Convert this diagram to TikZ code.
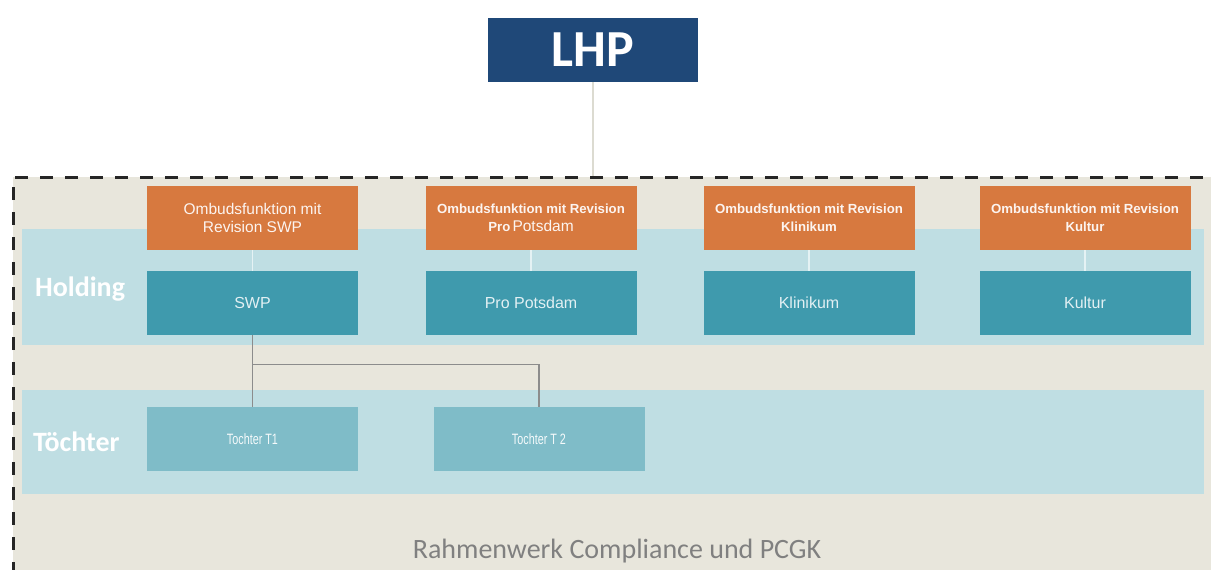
\documentclass[tikz,border=0pt]{standalone}
\usepackage{fontspec}
\setmainfont{Liberation Sans}
\newfontfamily\calib{Carlito}
\newfontfamily\narrow[FakeStretch=0.72]{Liberation Sans}

\definecolor{lhpblue}{HTML}{1F4878}
\definecolor{frameback}{HTML}{E8E6DC}
\definecolor{bandblue}{HTML}{BFDEE3}
\definecolor{ombudorange}{HTML}{D7793F}
\definecolor{firmteal}{HTML}{3F9AAD}
\definecolor{daughterblue}{HTML}{7FBCC8}

\begin{document}
\begin{tikzpicture}[x=1pt, y=-1pt,
  box/.style={minimum width=211pt, minimum height=64pt, inner sep=0pt, align=center},
  ombud/.style={box, fill=ombudorange, text=white!92!ombudorange, font=\fontsize{15.5}{18}\selectfont},
  ombudbold/.style={ombud, font=\bfseries\fontsize{13.2}{18}\selectfont},
  firm/.style={box, fill=firmteal, text=white!85!firmteal, font=\fontsize{16}{18}\selectfont},
  daughter/.style={box, fill=daughterblue, text=white!92!daughterblue, font=\narrow\fontsize{15}{16}\selectfont},
  level/.style={anchor=west, inner sep=0pt, text=white, font=\calib\bfseries\fontsize{28}{30}\selectfont}]

\useasboundingbox (0,0) rectangle (1211,570);
\clip (0,0) rectangle (1211,570);

% frame and the two level bands
\fill [frameback] (13,177) rectangle (1230,600);
\fill [bandblue] (22,229) rectangle (1204,345);
\fill [bandblue] (22,390) rectangle (1204,494);

\node [level] (holding) at (35,289) {Holding};
\node [level] (toechter) at (33,442) {Töchter};

% top
\node [box, minimum width=210pt, fill=lhpblue, text=white, font=\calib\bfseries\fontsize{52}{60}\selectfont] (lhp) at (593,50) {LHP};
\coordinate (frametop) at (593,177);
\draw [frameback!95!black, line width=1.5pt] (lhp.south) -- (frametop);

% ombudsman and holding companies
\foreach \x/\id/\ostyle/\otext/\ftext in {
  252.5/swp/ombud/{Ombudsfunktion mit\\Revision SWP}/SWP,
  531/pro/ombudbold/{Ombudsfunktion mit Revision\\Pro\,{\mdseries\fontsize{15.5}{18}\selectfont Potsdam}}/Pro Potsdam,
  809/klinikum/ombudbold/{Ombudsfunktion mit Revision\\Klinikum}/Klinikum,
  1085/kultur/ombudbold/{Ombudsfunktion mit Revision\\Kultur}/Kultur}
{
  \node [\ostyle] (omb-\id) at (\x,218) {\otext};
  \node [firm] (firm-\id) at (\x,303) {\ftext};
  \draw [bandblue!40!white, line width=1.5pt] (omb-\id.south) -- (firm-\id.north);
}

% daughters of SWP
\node [daughter] (t1) at (252.5,439) {Tochter T1};
\node [daughter] (t2) at (539,439) {Tochter T 2};

\draw [black!45, line width=1.2pt] (firm-swp.south) -- (t1.north);
\draw [black!45, line width=1.2pt] (firm-swp.south) -- ++(0,29) -| (t2.north);

\node [text=black!50, font=\calib\fontsize{28}{30}\selectfont] (rahmen) at (617,551) {Rahmenwerk Compliance und PCGK};

\draw [black!85, line width=3pt, dash pattern=on 13pt off 12pt] (13,600) -- (13,177) -- (1230,177);
\end{tikzpicture}
\end{document}
